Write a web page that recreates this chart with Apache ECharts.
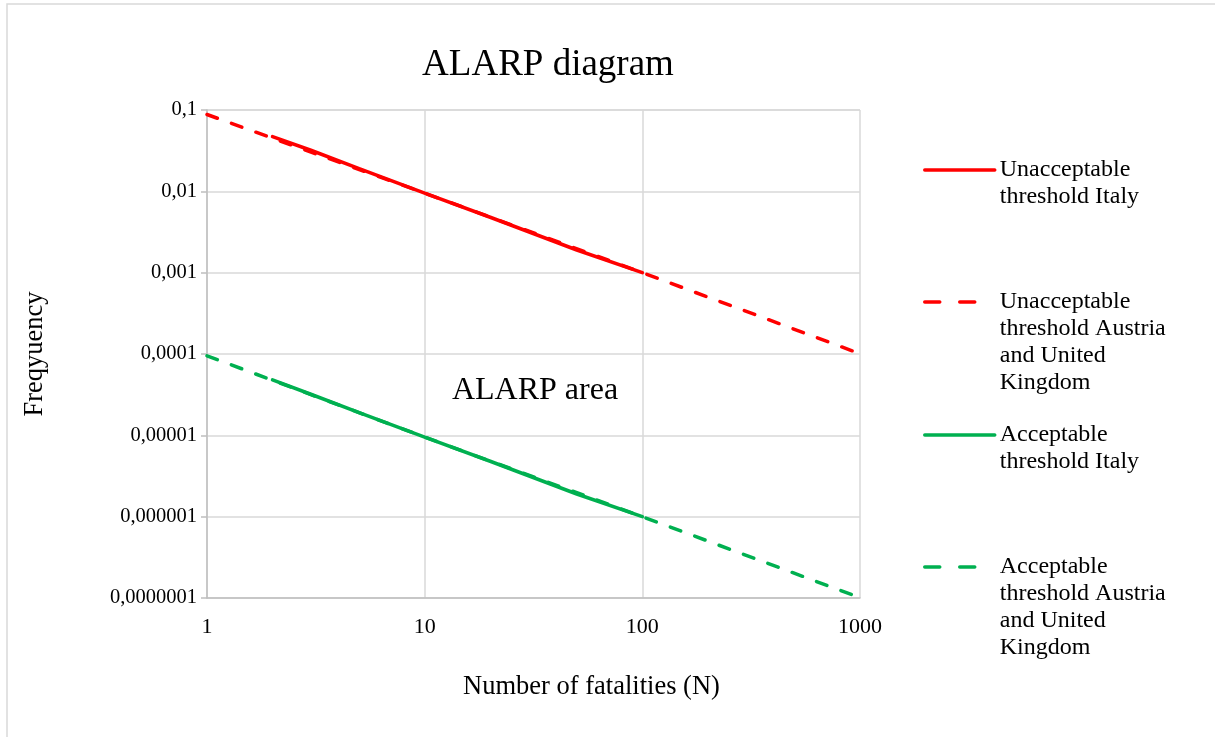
<!DOCTYPE html>
<html>
<head>
<meta charset="utf-8">
<script src="https://cdn.jsdelivr.net/npm/echarts@6/dist/echarts.min.js"></script>
<style>
html, body { margin: 0; padding: 0; background: #fff; }
#chart { width: 1215px; height: 737px; }
</style>
</head>
<body>
<div id="chart"></div>
<script>
// values: [N, frequency]
var unaccItaly = [[2, 0.047], [3, 0.032], [5, 0.019], [10, 0.0095], [20, 0.0048], [50, 0.0019], [100, 0.001]];
var unaccAustriaUK = [[1, 0.088], [10, 0.0095], [100, 0.001], [960, 0.000105]];
var accItaly = [[2, 0.000048], [3, 0.000032], [5, 0.000019], [10, 0.0000095], [20, 0.0000048], [50, 0.0000019], [100, 0.000001]];
var accAustriaUK = [[1, 0.000095], [10, 0.0000095], [100, 0.000001], [960, 0.000000105]];

var names = [
    'Unacceptable\nthreshold Italy',
    'Unacceptable\nthreshold Austria\nand United\nKingdom',
    'Acceptable\nthreshold Italy',
    'Acceptable\nthreshold Austria\nand United\nKingdom'
];

var font = '"Liberation Serif", "Times New Roman", serif';
var red = '#ff0000';
var green = '#00b050';

function commaLabel(v) {
    var e = Math.round(Math.log10(v));
    if (e >= 0) return String(Math.round(v));
    return '0,' + '0'.repeat(-e - 1) + '1';
}

// legend text is centred on the icon, so pad the top with blank lines
// to line the first text row up with the icon
function padName(n) {
    var k = n.split('\n').length - 1;
    return '\n'.repeat(k) + n;
}

function makeLegend(name, iconY, dashed) {
    var lines = name.split('\n').length * 2 - 1;
    return {
        orient: 'vertical',
        left: 923,
        top: iconY - lines * 27 / 2,
        padding: 0,
        itemWidth: 70,
        itemHeight: 14,
        selectedMode: false,
        itemStyle: { opacity: 0 },
        lineStyle: { width: 3.5, type: dashed ? [15, 20] : 'solid', cap: 'round' },
        data: [padName(name)],
        textStyle: { fontFamily: font, fontSize: 24, lineHeight: 27, color: '#000' }
    };
}

function lineSeries(name, data, color, dashed) {
    return {
        type: 'line',
        name: padName(name),
        data: data,
        showSymbol: false,
        symbol: 'none',
        silent: true,
        lineStyle: {
            color: color,
            width: 3.5,
            type: dashed ? [11, 15] : 'solid',
            cap: 'round'
        },
        itemStyle: { color: color },
        z: dashed ? 2 : 3
    };
}

var chart = echarts.init(document.getElementById('chart'));
chart.setOption({
    animation: false,
    backgroundColor: '#fff',
    title: {
        text: 'ALARP diagram',
        left: 543,
        textAlign: 'center',
        top: 42,
        textStyle: { fontFamily: font, fontSize: 37, fontWeight: 'normal', color: '#000' }
    },
    legend: [
        makeLegend(names[0], 170, false),
        makeLegend(names[1], 302, true),
        makeLegend(names[2], 435, false),
        makeLegend(names[3], 567, true)
    ],
    grid: { left: 207, right: 355, top: 110, bottom: 139 },
    xAxis: {
        type: 'log',
        logBase: 10,
        min: 1,
        max: 1000,
        name: 'Number of fatalities (N)',
        nameLocation: 'middle',
        nameGap: 76,
        nameTextStyle: { fontFamily: font, fontSize: 26.5, color: '#000', padding: [0, 0, 0, 116] },
        axisLine: { lineStyle: { color: '#bfbfbf', width: 1.5 } },
        axisTick: { show: false },
        axisLabel: {
            fontFamily: font, fontSize: 22, color: '#000', margin: 18,
            formatter: commaLabel
        },
        splitLine: { show: true, lineStyle: { color: '#d9d9d9', width: 1.5 } },
        minorTick: { show: false }
    },
    yAxis: {
        type: 'log',
        logBase: 10,
        min: 0.0000001,
        max: 0.1,
        name: 'Freqyuency',
        nameLocation: 'middle',
        nameGap: 158,
        nameRotate: 90,
        nameTextStyle: { fontFamily: font, fontSize: 26.5, color: '#000' },
        axisLine: { show: true, lineStyle: { color: '#bfbfbf', width: 1.5 } },
        axisTick: { show: true, length: 6, lineStyle: { color: '#bfbfbf', width: 1.5 } },
        axisLabel: {
            fontFamily: font, fontSize: 20.5, color: '#000', margin: 10,
            formatter: commaLabel
        },
        splitLine: { show: true, lineStyle: { color: '#d9d9d9', width: 1.5 } }
    },
    graphic: [
        {
            type: 'rect',
            shape: { x: 7, y: 4, width: 1230, height: 760 },
            style: { fill: 'none', stroke: '#d9d9d9', lineWidth: 1.5 },
            silent: true
        },
        {
            type: 'text',
            x: 535,
            y: 391,
            style: {
                text: 'ALARP area',
                fontFamily: font,
                fontSize: 32,
                fill: '#000',
                align: 'center',
                verticalAlign: 'middle'
            },
            silent: true
        }
    ],
    series: [
        lineSeries(names[0], unaccItaly, red, false),
        lineSeries(names[1], unaccAustriaUK, red, true),
        lineSeries(names[2], accItaly, green, false),
        lineSeries(names[3], accAustriaUK, green, true)
    ]
});
</script>
</body>
</html>
